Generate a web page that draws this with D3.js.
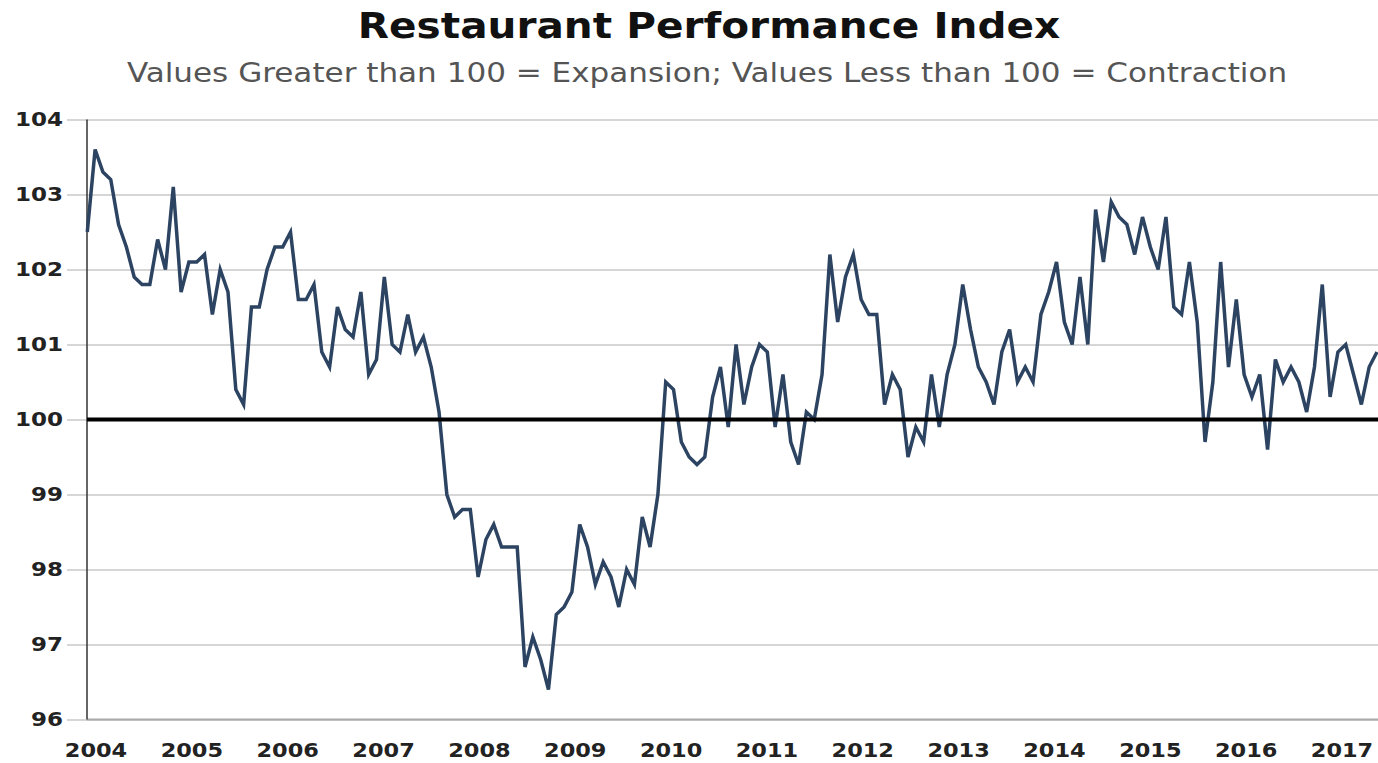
<!DOCTYPE html>
<html>
<head>
<meta charset="utf-8">
<script src="https://cdn.jsdelivr.net/npm/d3@7"></script>
<style>
  body { margin: 0; background: #fff; }
  svg { display: block; }
</style>
</head>
<body>
<div id="chart"></div>
<script>
// monthly index values (first point sits on the y axis)
const values = [
  102.5, 103.6, 103.3, 103.2, 102.6, 102.3, 101.9, 101.8, 101.8, 102.4, 102.0, 103.1,
  101.7, 102.1, 102.1, 102.2, 101.4, 102.0, 101.7, 100.4, 100.2, 101.5, 101.5, 102.0,
  102.3, 102.3, 102.5, 101.6, 101.6, 101.8, 100.9, 100.7, 101.5, 101.2, 101.1, 101.7,
  100.6, 100.8, 101.9, 101.0, 100.9, 101.4, 100.9, 101.1, 100.7, 100.1, 99.0, 98.7,
  98.8, 98.8, 97.9, 98.4, 98.6, 98.3, 98.3, 98.3, 96.7, 97.1, 96.8, 96.4,
  97.4, 97.5, 97.7, 98.6, 98.3, 97.8, 98.1, 97.9, 97.5, 98.0, 97.8, 98.7,
  98.3, 99.0, 100.5, 100.4, 99.7, 99.5, 99.4, 99.5, 100.3, 100.7, 99.9, 101.0,
  100.2, 100.7, 101.0, 100.9, 99.9, 100.6, 99.7, 99.4, 100.1, 100.0, 100.6, 102.2,
  101.3, 101.9, 102.2, 101.6, 101.4, 101.4, 100.2, 100.6, 100.4, 99.5, 99.9, 99.7,
  100.6, 99.9, 100.6, 101.0, 101.8, 101.2, 100.7, 100.5, 100.2, 100.9, 101.2, 100.5,
  100.7, 100.5, 101.4, 101.7, 102.1, 101.3, 101.0, 101.9, 101.0, 102.8, 102.1, 102.9,
  102.7, 102.6, 102.2, 102.7, 102.3, 102.0, 102.7, 101.5, 101.4, 102.1, 101.3, 99.7,
  100.5, 102.1, 100.7, 101.6, 100.6, 100.3, 100.6, 99.6, 100.8, 100.5, 100.7, 100.5,
  100.1, 100.7, 101.8, 100.3, 100.9, 101.0, 100.6, 100.2, 100.7, 100.9
];
const years = ["2004", "2005", "2006", "2007", "2008", "2009", "2010",
               "2011", "2012", "2013", "2014", "2015", "2016", "2017"];
const yTicks = [96, 97, 98, 99, 100, 101, 102, 103, 104];
const baseline = 100;

const W = 1378, H = 763;
const m = {left: 87, right: 0, top: 119.5, bottom: 43.5};
// the reference text is a little wider than the font draws it
const stretch = 1.15;
const font = "'DejaVu Sans', Verdana, sans-serif";

const svg = d3.select("#chart").append("svg")
    .attr("width", W)
    .attr("height", H);

// scales
const x = d3.scaleLinear()
    .domain([0, values.length - 1])
    .range([87.3, 1377]);
const y = d3.scaleLinear()
    .domain([96, 104])
    .range([H - m.bottom, m.top]);
const xYears = d3.scalePoint()
    .domain(years)
    .range([95.5, 1341.5]);

// horizontal grid + y labels
const yAxis = svg.append("g")
    .attr("transform", "translate(" + m.left + ",0)")
    .call(d3.axisLeft(y).tickValues(yTicks).tickSize(0).tickPadding(24).tickFormat(d3.format("d")));
yAxis.select(".domain").remove();
yAxis.selectAll(".tick line")
    .attr("x1", -20)
    .attr("x2", W - m.left)
    .attr("stroke", "#c8c8c8")
    .attr("stroke-width", 1.5);
yAxis.selectAll(".tick text")
    .attr("x", -24 / stretch)
    .attr("transform", "scale(" + stretch + ",1)")
    .attr("fill", "#222")
    .style("font-family", font)
    .style("font-weight", "bold")
    .style("font-size", "20px");

// bottom axis line
svg.append("line")
    .attr("x1", m.left).attr("x2", W)
    .attr("y1", y(96)).attr("y2", y(96))
    .attr("stroke", "#aaa")
    .attr("stroke-width", 2);

// y axis line
svg.append("line")
    .attr("x1", m.left).attr("x2", m.left)
    .attr("y1", y(104)).attr("y2", y(96))
    .attr("stroke", "#333")
    .attr("stroke-width", 1.5);

// year labels
const xAxis = svg.append("g")
    .attr("transform", "translate(0," + y(96) + ")")
    .call(d3.axisBottom(xYears).tickSize(0).tickPadding(24));
xAxis.select(".domain").remove();
xAxis.selectAll(".tick text")
    .attr("transform", "scale(" + stretch + ",1)")
    .attr("fill", "#222")
    .style("font-family", font)
    .style("font-weight", "bold")
    .style("font-size", "19.5px");

// the series
const line = d3.line()
    .x((d, i) => x(i))
    .y(d => y(d));

svg.append("path")
    .datum(values)
    .attr("fill", "none")
    .attr("stroke", "#2c4462")
    .attr("stroke-width", 3.5)
    .attr("stroke-linejoin", "miter")
    .attr("d", line);

// 100 = expansion/contraction line
svg.append("line")
    .attr("x1", m.left).attr("x2", W)
    .attr("y1", y(baseline)).attr("y2", y(baseline))
    .attr("stroke", "#000")
    .attr("stroke-width", 4);

// titles
svg.append("text")
    .attr("transform", "translate(709,38) scale(1.16,1)")
    .attr("text-anchor", "middle")
    .attr("fill", "#111")
    .style("font-family", font)
    .style("font-weight", "bold")
    .style("font-size", "35px")
    .text("Restaurant Performance Index");

svg.append("text")
    .attr("transform", "translate(707,82) scale(" + stretch + ",1)")
    .attr("text-anchor", "middle")
    .attr("fill", "#555")
    .style("font-family", font)
    .style("font-size", "27px")
    .text("Values Greater than 100 = Expansion; Values Less than 100 = Contraction");
</script>
</body>
</html>
